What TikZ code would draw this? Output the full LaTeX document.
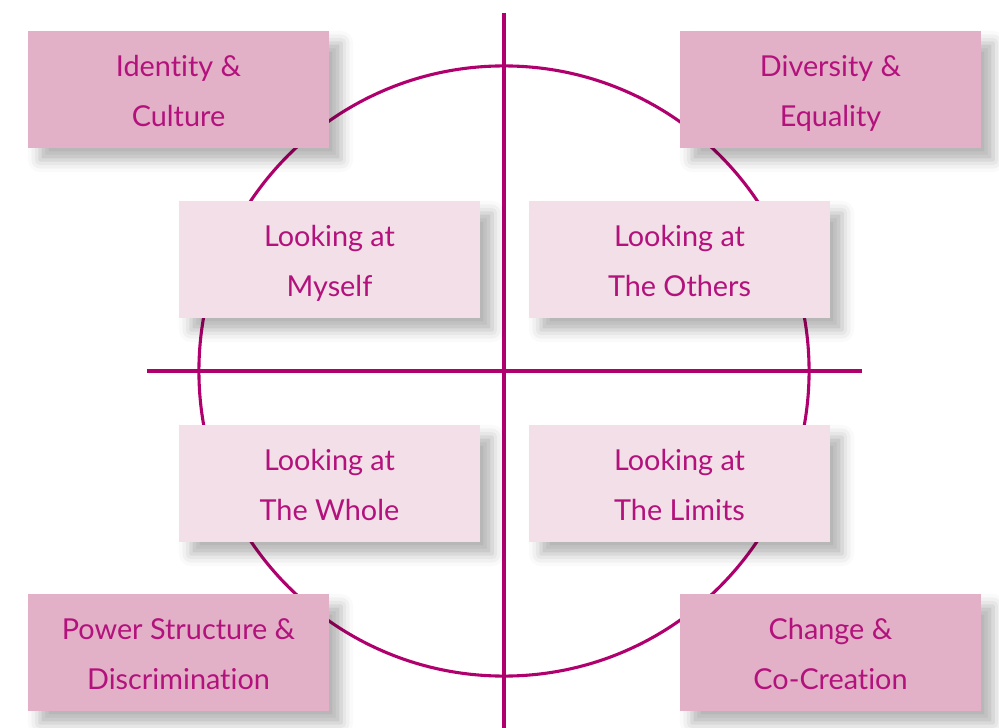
\documentclass[tikz,border=0pt]{standalone}
\usepackage{fontspec}
\setmainfont{Lato}[Ligatures=NoCommon]
\usetikzlibrary{shadows.blur}
\definecolor{magline}{HTML}{B0006E}
\definecolor{magtext}{HTML}{B3127C}
\definecolor{darkpink}{HTML}{E2B1C8}
\definecolor{lightpink}{HTML}{F2DFE8}
\newcommand{\twolines}[2]{\rule{0pt}{27.7pt}#1\\\strut#2}
\begin{document}
\begin{tikzpicture}[x=0.025cm,y=-0.025cm,
	box/.style={minimum width=7.525cm,minimum height=2.925cm,inner sep=0pt,align=center,
		text=magtext,font=\fontsize{20.5}{35.5}\selectfont,
		blur shadow={shadow xshift=0.3cm,shadow yshift=-0.3cm,shadow blur radius=0.3cm,shadow opacity=30}},
	outerbox/.style={box,fill=darkpink},
	innerbox/.style={box,fill=lightpink}]
		\useasboundingbox (0,0) rectangle (999,728);
		\coordinate (O) at (504,371);
		% axes and circle
		\draw[magline,line width=2.2pt] (504,13)--(504,728) (147,371)--(862,371);
		\draw[magline,line width=2.2pt] (O) circle[radius=7.625cm];
		% outer boxes
		\node[outerbox] (identity) at (178.5,89.5) {\twolines{Identity \&}{Culture}};
		\node[outerbox] (diversity) at (830.5,89.5) {\twolines{Diversity \&}{Equality}};
		\node[outerbox] (power) at (178.5,652.5) {\twolines{Power Structure \&}{Discrimination}};
		\node[outerbox] (change) at (830.5,652.5) {\twolines{Change \&}{Co-Creation}};
		% inner boxes
		\node[innerbox] (myself) at (329.5,259.5) {\twolines{Looking at}{Myself}};
		\node[innerbox] (others) at (679.5,259.5) {\twolines{Looking at}{The Others}};
		\node[innerbox] (whole) at (329.5,483.5) {\twolines{Looking at}{The Whole}};
		\node[innerbox] (limits) at (679.5,483.5) {\twolines{Looking at}{The Limits}};
\end{tikzpicture}
\end{document}
